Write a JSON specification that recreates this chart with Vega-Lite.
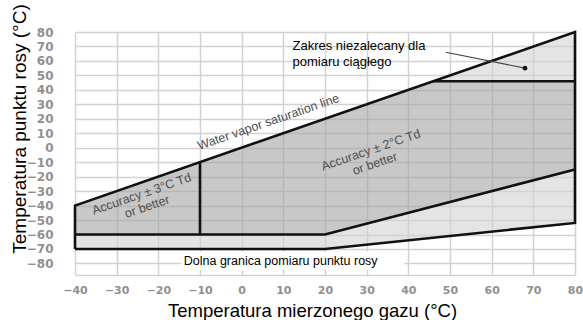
{
  "$schema": "https://vega.github.io/schema/vega-lite/v6.json",
  "width": 500,
  "height": 243,
  "autosize": "none",
  "padding": {"left": 75, "top": 32, "right": 8, "bottom": 45},
  "background": "white",
  "config": {"view": {"stroke": null}, "font": "Liberation Sans"},
  "datasets": {
    "areas": [
      {"region": "dark", "x": -40, "y": -60, "y2": -40},
      {"region": "dark", "x": 20, "y": -60, "y2": 20},
      {"region": "dark", "x": 46, "y": -40.5, "y2": 46},
      {"region": "dark", "x": 80, "y": -15, "y2": 46},
      {"region": "lightlow", "x": -40, "y": -70, "y2": -60},
      {"region": "lightlow", "x": 20, "y": -70, "y2": -60},
      {"region": "lightlow", "x": 80, "y": -52, "y2": -15},
      {"region": "lighttop", "x": 46, "y": 46, "y2": 46},
      {"region": "lighttop", "x": 80, "y": 46, "y2": 80}
    ],
    "lines": [
      {"seg": "A", "ord": 1, "x": -40, "y": -70},
      {"seg": "A", "ord": 2, "x": -40, "y": -40},
      {"seg": "A", "ord": 3, "x": 80, "y": 80},
      {"seg": "A", "ord": 4, "x": 80, "y": -52},
      {"seg": "A", "ord": 5, "x": 20, "y": -70},
      {"seg": "A", "ord": 6, "x": -40, "y": -70},
      {"seg": "B", "ord": 1, "x": -40, "y": -60},
      {"seg": "B", "ord": 2, "x": 20, "y": -60},
      {"seg": "B", "ord": 3, "x": 80, "y": -15},
      {"seg": "C", "ord": 1, "x": 46, "y": 46},
      {"seg": "C", "ord": 2, "x": 80, "y": 46},
      {"seg": "D", "ord": 1, "x": -10, "y": -60},
      {"seg": "D", "ord": 2, "x": -10, "y": -10}
    ],
    "pointer": [
      {"ord": 1, "x": 49, "y": 66},
      {"ord": 2, "x": 68, "y": 55}
    ],
    "rotated": [
      {"label": "Water vapor saturation line", "x": 6.4, "y": 17.8},
      {"label": "Accuracy  ± 3°C Td", "x": -24, "y": -32},
      {"label": "or better", "x": -22.7, "y": -40.8},
      {"label": "Accuracy  ± 2°C Td", "x": 31, "y": -1.6},
      {"label": "or better", "x": 32, "y": -11}
    ],
    "zakres": [
      {"label": "Zakres niezalecany dla", "x": 12.2, "y": 67.6},
      {"label": "pomiaru ciągłego", "x": 12.2, "y": 56.7}
    ],
    "dolna": [
      {"label": "Dolna granica pomiaru punktu rosy", "x": -13.9, "y": -81.1}
    ],
    "box": [
      {"x": -14.5, "x2": 39, "y": -72, "y2": -84.5}
    ]
  },
  "encoding": {
    "x": {
      "field": "x", "type": "quantitative",
      "scale": {"domain": [-40, 80], "nice": false, "zero": false},
      "axis": {
        "values": [-40, -30, -20, -10, 0, 10, 20, 30, 40, 50, 60, 70, 80],
        "grid": true, "gridColor": "#d2d2d2", "gridWidth": 1.5,
        "domain": true, "domainColor": "#d2d2d2", "domainWidth": 1.5,
        "ticks": false, "tickSize": 0, "labelPadding": 9,
        "labelOverlap": false, "labelFlush": false,
        "labelFont": "DejaVu Sans", "labelFontWeight": "bold", "labelFontSize": 11, "labelColor": "#909090",
        "title": "Temperatura mierzonego gazu (°C)",
        "titleFont": "Liberation Sans", "titleFontSize": 18.5, "titleFontWeight": "normal", "titleColor": "#000000",
        "titleX": 237, "titleY": 41, "titleAlign": "center", "titleBaseline": "alphabetic"
      }
    },
    "y": {
      "field": "y", "type": "quantitative", "stack": null,
      "scale": {"domain": [-88, 80], "nice": false, "zero": false},
      "axis": {
        "values": [-80, -70, -60, -50, -40, -30, -20, -10, 0, 10, 20, 30, 40, 50, 60, 70, 80],
        "grid": true, "gridColor": "#d2d2d2", "gridWidth": 1.5,
        "domain": false, "ticks": false, "tickSize": 0, "labelPadding": 22,
        "labelOverlap": false, "labelFlush": false,
        "labelFont": "DejaVu Sans", "labelFontWeight": "bold", "labelFontSize": 12, "labelColor": "#909090",
        "title": "Temperatura punktu rosy (°C)",
        "titleFont": "Liberation Sans", "titleFontSize": 19, "titleFontWeight": "normal", "titleColor": "#000000",
        "titleAngle": 270, "titleX": -50, "titleY": 96.5, "titleAlign": "center", "titleBaseline": "alphabetic"
      }
    }
  },
  "layer": [
    {
      "data": {"name": "areas"},
      "mark": {"type": "area", "opacity": 0.6},
      "encoding": {
        "y2": {"field": "y2"},
        "color": {
          "field": "region", "type": "nominal", "legend": null,
          "scale": {"domain": ["dark", "lightlow", "lighttop"], "range": ["#a3a3a3", "#d2d2d2", "#d2d2d2"]}
        }
      }
    },
    {
      "data": {"name": "box"},
      "mark": {"type": "rect", "fill": "#ffffff"},
      "encoding": {
        "x2": {"field": "x2"},
        "y2": {"field": "y2"}
      }
    },
    {
      "data": {"name": "lines"},
      "mark": {"type": "line", "color": "#111111", "strokeWidth": 2.6, "strokeJoin": "miter"},
      "encoding": {
        "detail": {"field": "seg"},
        "order": {"field": "ord", "type": "quantitative"}
      }
    },
    {
      "data": {"name": "pointer"},
      "mark": {"type": "line", "color": "#444444", "strokeWidth": 1.2},
      "encoding": {
        "order": {"field": "ord", "type": "quantitative"}
      }
    },
    {
      "data": {"name": "pointer"},
      "transform": [{"filter": "datum.ord == 2"}],
      "mark": {"type": "circle", "color": "#111111", "size": 22, "opacity": 1},
      "encoding": {}
    },
    {
      "data": {"name": "rotated"},
      "mark": {"type": "text", "angle": 341, "align": "center", "baseline": "middle", "font": "Liberation Sans", "fontSize": 12.5, "color": "#505050"},
      "encoding": {
        "text": {"field": "label"}
      }
    },
    {
      "data": {"name": "zakres"},
      "mark": {"type": "text", "align": "left", "baseline": "alphabetic", "font": "Liberation Sans", "fontSize": 13, "color": "#000000"},
      "encoding": {
        "text": {"field": "label"}
      }
    },
    {
      "data": {"name": "dolna"},
      "mark": {"type": "text", "align": "left", "baseline": "alphabetic", "font": "Liberation Sans", "fontSize": 12.5, "color": "#000000"},
      "encoding": {
        "text": {"field": "label"}
      }
    }
  ]
}
